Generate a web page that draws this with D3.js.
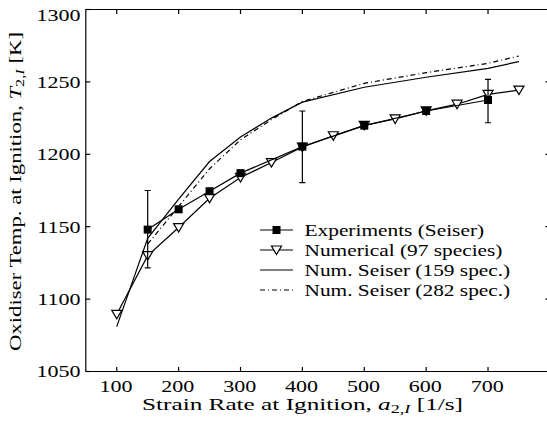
<!DOCTYPE html>
<html><head><meta charset="utf-8">
<script src="https://cdn.jsdelivr.net/npm/d3@7"></script>
<style>
html,body{margin:0;padding:0;background:#fff;}
</style></head>
<body><svg id="c" width="547" height="428"></svg>
<script>
// ---- data ----
const expX   = [150, 200, 250, 300, 400, 500, 600, 700];
const expY   = [1148, 1162, 1174.5, 1187, 1205.3, 1219.8, 1229.9, 1237.5];
const errX   = [150, 400, 700];
const errLo  = [1121.5, 1180.4, 1221.8];
const errHi  = [1175, 1229.9, 1251.8];
const numX   = [100, 150, 200, 250, 300, 350, 400, 450, 500, 550, 600, 650, 700, 750];
const numY   = [1089.5, 1130, 1149.4, 1169.6, 1184, 1194.3, 1205, 1212.8, 1220, 1224.4, 1230, 1234.6, 1241.4, 1244.3];
const s159X  = [100, 150, 200, 250, 300, 350, 400, 500, 600, 700, 750];
const s159Y  = [1081, 1142, 1169, 1195, 1212, 1225, 1236, 1246.3, 1253.2, 1259.4, 1264];
const s282X  = [150, 200, 250, 300, 350, 400, 500, 600, 700, 750];
const s282Y  = [1138, 1164, 1190, 1210, 1224, 1236.5, 1249, 1256.4, 1262.8, 1267.9];
const xTicks = [100, 200, 300, 400, 500, 600, 700];
const yTicks = [1050, 1100, 1150, 1200, 1250, 1300];
const legendLabels = ["Experiments (Seiser)", "Numerical (97 species)", "Num. Seiser (159 spec.)", "Num. Seiser (282 spec.)"];

// ---- layout ----
const FF = "'Liberation Serif', 'Times New Roman', Tinos, 'DejaVu Serif', serif";
const FS = 17.5, FSX = 16.5;
const SX_TICK = 1.26, SX_XTICK = 1.26 * 17.5 / 16.5, SX_LEG = 1.22;
const svg = d3.select("#c");
const x = d3.scaleLinear().domain([50, 800]).range([85.8, 549.9]);
const y = d3.scaleLinear().domain([1050, 1300]).range([371.5, 9.5]);
const L = x.range()[0], R = x.range()[1], T = y.range()[1], B = y.range()[0];
const TL = 4.5;
const sw = 1.2;

const g = svg.append("g").attr("font-family", FF);

// axes box
g.append("path").attr("d", `M${L},${T}H${R}V${B}H${L}Z`).attr("fill","none").attr("stroke","#000").attr("stroke-width",sw);

// ticks (inward)
xTicks.forEach(t => {
  g.append("line").attr("x1",x(t)).attr("x2",x(t)).attr("y1",B).attr("y2",B-TL).attr("stroke","#000").attr("stroke-width",sw);
  g.append("line").attr("x1",x(t)).attr("x2",x(t)).attr("y1",T).attr("y2",T+TL).attr("stroke","#000").attr("stroke-width",sw);
  g.append("text").attr("transform",`translate(${x(t)-0.8},391.5) scale(${SX_XTICK},1)`)
    .attr("text-anchor","middle").attr("font-family",FF).attr("font-size",FSX).text(t);
});
yTicks.forEach(t => {
  g.append("line").attr("x1",L).attr("x2",L+TL).attr("y1",y(t)).attr("y2",y(t)).attr("stroke","#000").attr("stroke-width",sw);
  g.append("line").attr("x1",R).attr("x2",R-TL).attr("y1",y(t)).attr("y2",y(t)).attr("stroke","#000").attr("stroke-width",sw);
  g.append("text").attr("transform",`translate(80.5,${Math.max(y(t),14.8)+5.9}) scale(${SX_TICK},1)`)
    .attr("text-anchor","end").attr("font-family",FF).attr("font-size",FS).text(t);
});

// axis labels
const xl = g.append("text").attr("x",302.5).attr("y",409.5).attr("text-anchor","middle")
  .attr("textLength",321).attr("lengthAdjust","spacingAndGlyphs")
  .attr("font-family",FF).attr("font-size",FSX);
xl.append("tspan").text("Strain Rate at Ignition, ");
xl.append("tspan").attr("font-style","italic").text("a");
xl.append("tspan").attr("font-size",FSX*0.72).attr("dy",3.5).text("2,");
xl.append("tspan").attr("font-size",FSX*0.72).attr("font-style","italic").text("I");
xl.append("tspan").attr("dy",-3.5).text("  [1/s]");

const yl = g.append("text").attr("transform","translate(20.5,191.5) rotate(-90)").attr("text-anchor","middle")
  .attr("textLength",319).attr("lengthAdjust","spacingAndGlyphs")
  .attr("font-family",FF).attr("font-size",FS);
yl.append("tspan").text("Oxidiser Temp. at Ignition, ");
yl.append("tspan").attr("font-style","italic").text("T");
yl.append("tspan").attr("font-size",FS*0.72).attr("dy",3.5).text("2,");
yl.append("tspan").attr("font-size",FS*0.72).attr("font-style","italic").text("I");
yl.append("tspan").attr("dy",-3.5).text("  [K]");

const line = d3.line().x(d=>x(d[0])).y(d=>y(d[1]));
const zip = (a,b) => a.map((v,i)=>[v,b[i]]);

const plot = g.append("g");
plot.append("path").attr("d", line(zip(s159X,s159Y))).attr("fill","none").attr("stroke","#000").attr("stroke-width",sw);
plot.append("path").attr("d", line(zip(s282X,s282Y))).attr("fill","none").attr("stroke","#000").attr("stroke-width",sw).attr("stroke-dasharray","5,3,1,3");

const tri = (cx,cy) => `M${cx-5},${cy-4}L${cx+5},${cy-4}L${cx},${cy+4.5}Z`;
plot.append("path").attr("d", line(zip(numX,numY))).attr("fill","none").attr("stroke","#000").attr("stroke-width",sw);
plot.selectAll(".tri").data(zip(numX,numY)).join("path").attr("class","tri")
  .attr("d", d=>tri(x(d[0]),y(d[1]))).attr("fill","#fff").attr("stroke","#000").attr("stroke-width",sw);

plot.append("path").attr("d", line(zip(expX,expY))).attr("fill","none").attr("stroke","#000").attr("stroke-width",sw);
errX.forEach((v,i) => {
  const cx = x(v);
  plot.append("path").attr("d", `M${cx},${y(errLo[i])}V${y(errHi[i])}M${cx-3},${y(errLo[i])}H${cx+3}M${cx-3},${y(errHi[i])}H${cx+3}`)
    .attr("fill","none").attr("stroke","#000").attr("stroke-width",sw);
});
plot.selectAll(".sq").data(zip(expX,expY)).join("rect").attr("class","sq")
  .attr("x", d=>x(d[0])-4).attr("y", d=>y(d[1])-4).attr("width",8).attr("height",8).attr("fill","#000");

const ly = [230, 250, 270, 290];
const lx1 = 260, lx2 = 293, lm = 276.5, lt = 304.5;
legendLabels.forEach((lab,i) => {
  const ln = g.append("line").attr("x1",lx1).attr("x2",lx2).attr("y1",ly[i]).attr("y2",ly[i]).attr("stroke","#000").attr("stroke-width",sw);
  if (i===3) ln.attr("stroke-dasharray","5,3,1,3");
  if (i===0) g.append("rect").attr("x",lm-4).attr("y",ly[i]-4).attr("width",8).attr("height",8).attr("fill","#000");
  if (i===1) g.append("path").attr("d",tri(lm,ly[i])).attr("fill","#fff").attr("stroke","#000").attr("stroke-width",sw);
  g.append("text").attr("transform",`translate(${lt},${ly[i]+6}) scale(${SX_LEG},1)`)
    .attr("font-family",FF).attr("font-size",FS).text(lab);
});
</script></body></html>
